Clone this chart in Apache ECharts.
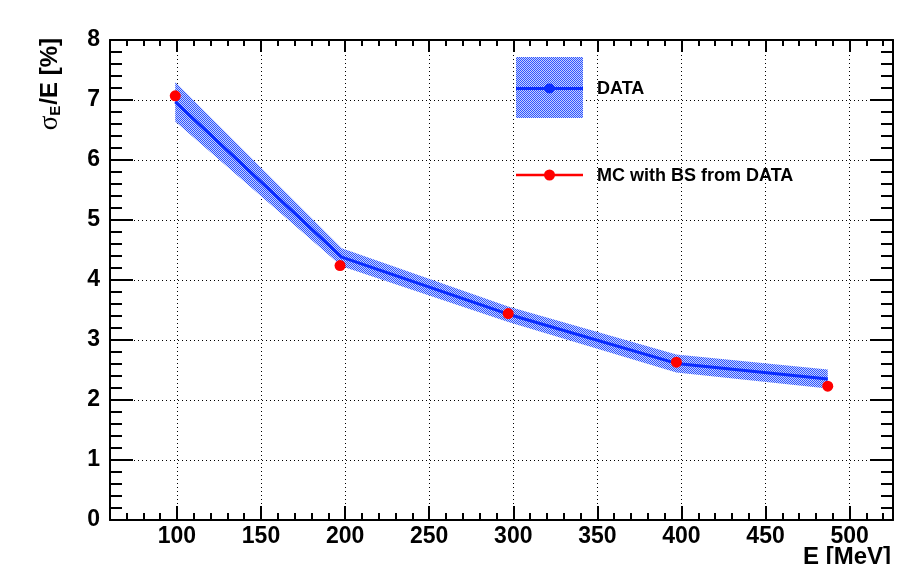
<!DOCTYPE html>
<html><head><meta charset="utf-8">
<script src="https://cdn.jsdelivr.net/npm/echarts@6/dist/echarts.min.js"></script>
<style>html,body{margin:0;padding:0;background:#fff}#c{width:905px;height:564px}</style>
</head><body><div id="c"></div>
<script>
// ---- data ----
const energy = [99, 198, 297, 397, 487];
const dataSigma = [6.97, 4.38, 3.43, 2.61, 2.35];
const dataErr = [0.33, 0.15, 0.13, 0.15, 0.16];
const mcEnergy = [99, 197, 297, 397, 487];
const mcSigma = [7.07, 4.24, 3.44, 2.63, 2.23];
const xMajorTicks = [100, 150, 200, 250, 300, 350, 400, 450, 500];
const xMinorTicks = [70, 80, 90, 100, 110, 120, 130, 140, 150, 160, 170, 180, 190, 200, 210, 220, 230, 240, 250, 260, 270, 280, 290, 300, 310, 320, 330, 340, 350, 360, 370, 380, 390, 400, 410, 420, 430, 440, 450, 460, 470, 480, 490, 500, 510, 520];
const xRange = [60.2, 525.8];
const yRange = [0, 8];
const legendNames = ['DATA', 'MC with BS from DATA'];
const xTitle = 'E [MeV]';

const FONT = '"Liberation Sans", Arial, Helvetica, sans-serif';
const BLUE = '#0a2cff';
const RED = '#ff0000';

// dithered blue fill like ROOT fill style
const pc = document.createElement('canvas');
pc.width = 2; pc.height = 2;
const pctx = pc.getContext('2d');
pctx.fillStyle = '#c4d0ff'; pctx.fillRect(0, 0, 2, 2);
pctx.fillStyle = '#2f55ff'; pctx.fillRect(0, 0, 1, 1); pctx.fillRect(1, 1, 1, 1);
const pattern = { image: pc, repeat: 'repeat' };

const chart = echarts.init(document.getElementById('c'), null, { renderer: 'canvas' });
const gridBox = { left: 110, top: 40, right: 12, bottom: 44, containLabel: false };
const lineBlack = { color: '#000', width: 2 };

function tickAxis(gridIndex, position, ticks, len, withLine, withLabel) {
  return {
    gridIndex, type: 'value', position, min: xRange[0], max: xRange[1],
    axisLine: { show: withLine, onZero: false, lineStyle: lineBlack },
    axisTick: { show: true, inside: true, length: len, customValues: ticks, lineStyle: lineBlack },
    axisLabel: withLabel ? { show: true, customValues: ticks, margin: 5, color: '#000', fontSize: 23, fontWeight: 'bold', fontFamily: FONT } : { show: false },
    splitLine: { show: false }
  };
}

const option = {
  animation: false,
  backgroundColor: '#fff',
  grid: [Object.assign({}, gridBox), Object.assign({}, gridBox)],
  xAxis: [
    tickAxis(0, 'bottom', xMajorTicks, 14, true, true),
    tickAxis(0, 'top', xMajorTicks, 12, true, false),
    tickAxis(1, 'bottom', xMinorTicks, 7, false, false),
    tickAxis(1, 'top', xMinorTicks, 6, false, false)
  ],
  yAxis: [
    {
      gridIndex: 0, type: 'value', position: 'left', min: yRange[0], max: yRange[1], interval: 1,
      axisLine: { show: true, onZero: false, lineStyle: lineBlack },
      axisTick: { show: true, inside: true, length: 23, lineStyle: lineBlack },
      minorTick: { show: true, splitNumber: 5, length: 12, lineStyle: lineBlack },
      axisLabel: { show: true, margin: 10, color: '#000', fontSize: 23, fontWeight: 'bold', fontFamily: FONT },
      splitLine: { show: true, lineStyle: { type: [1, 3], color: '#000', width: 1 } }
    },
    {
      gridIndex: 0, type: 'value', position: 'right', min: yRange[0], max: yRange[1], interval: 1,
      axisLine: { show: true, onZero: false, lineStyle: lineBlack },
      axisTick: { show: true, inside: true, length: 23, lineStyle: lineBlack },
      minorTick: { show: true, splitNumber: 5, length: 12, lineStyle: lineBlack },
      axisLabel: { show: false },
      splitLine: { show: false }
    },
    { gridIndex: 1, type: 'value', min: yRange[0], max: yRange[1], show: false }
  ],
  series: [
    {
      name: 'DATA band', type: 'custom', xAxisIndex: 0, yAxisIndex: 0, z: 2,
      data: energy.map((x, i) => [x, dataSigma[i] - dataErr[i], dataSigma[i] + dataErr[i]]),
      encode: { x: 0, y: [1, 2] },
      renderItem: function (params, api) {
        if (params.dataIndex !== 0) return null;
        const up = [], lo = [];
        for (let i = 0; i < energy.length; i++) {
          up.push(api.coord([energy[i], dataSigma[i] + dataErr[i]]));
          lo.unshift(api.coord([energy[i], dataSigma[i] - dataErr[i]]));
        }
        return { type: 'polygon', shape: { points: up.concat(lo) }, style: { fill: pattern, stroke: null } };
      }
    },
    {
      name: legendNames[0], type: 'line', xAxisIndex: 0, yAxisIndex: 0, z: 3,
      data: energy.map((x, i) => [x, dataSigma[i]]),
      showSymbol: false, symbol: 'none',
      lineStyle: { color: BLUE, width: 3 }
    },
    {
      name: legendNames[1], type: 'scatter', xAxisIndex: 0, yAxisIndex: 0, z: 4,
      data: mcEnergy.map((x, i) => [x, mcSigma[i]]),
      symbol: 'circle', symbolSize: 11,
      itemStyle: { color: RED, opacity: 1 },
      markLine: {
        silent: true, z: 1, symbol: ['none', 'none'], label: { show: false },
        lineStyle: { type: [1, 3], color: '#000', width: 1 },
        emphasis: { disabled: true },
        data: xMajorTicks.map(v => ({ xAxis: v }))
      }
    }
  ],
  graphic: [
    {
      type: 'text', x: 50, y: 38, rotation: Math.PI / 2, z: 10,
      style: {
        text: '{s|σ}{sub|E}{n|/E [%]}',
        align: 'right', verticalAlign: 'middle', fill: '#000',
        rich: {
          s: { fontFamily: '"Liberation Serif", "DejaVu Serif", serif', fontSize: 27, fontWeight: 'normal', lineHeight: 26, verticalAlign: 'middle', fill: '#000' },
          sub: { fontFamily: FONT, fontSize: 15, fontWeight: 'bold', lineHeight: 15, verticalAlign: 'bottom', padding: [0, 1, 0, 0], fill: '#000' },
          n: { fontFamily: FONT, fontSize: 24, fontWeight: 'bold', lineHeight: 26, verticalAlign: 'middle', fill: '#000' }
        }
      }
    },
    {
      type: 'text', x: 891, y: 545, z: 10,
      style: { text: xTitle, align: 'right', verticalAlign: 'top', fill: '#000', font: 'bold 24px ' + FONT }
    },
    // legend
    { type: 'rect', z: 10, shape: { x: 516, y: 57, width: 67, height: 61 }, style: { fill: pattern } },
    { type: 'line', z: 11, shape: { x1: 516, y1: 88.5, x2: 583, y2: 88.5 }, style: { stroke: BLUE, lineWidth: 3 } },
    { type: 'circle', z: 12, shape: { cx: 549.5, cy: 88.5, r: 5 }, style: { fill: BLUE } },
    { type: 'text', z: 12, x: 597, y: 89, style: { text: legendNames[0], align: 'left', verticalAlign: 'middle', fill: '#000', font: 'bold 18px ' + FONT } },
    { type: 'line', z: 11, shape: { x1: 516, y1: 175, x2: 583, y2: 175 }, style: { stroke: RED, lineWidth: 2.5 } },
    { type: 'circle', z: 12, shape: { cx: 549.5, cy: 175, r: 5.5 }, style: { fill: RED } },
    { type: 'text', z: 12, x: 597, y: 176, style: { text: legendNames[1], align: 'left', verticalAlign: 'middle', fill: '#000', font: 'bold 18px ' + FONT } }
  ]
};
chart.setOption(option);
</script>
</body></html>
